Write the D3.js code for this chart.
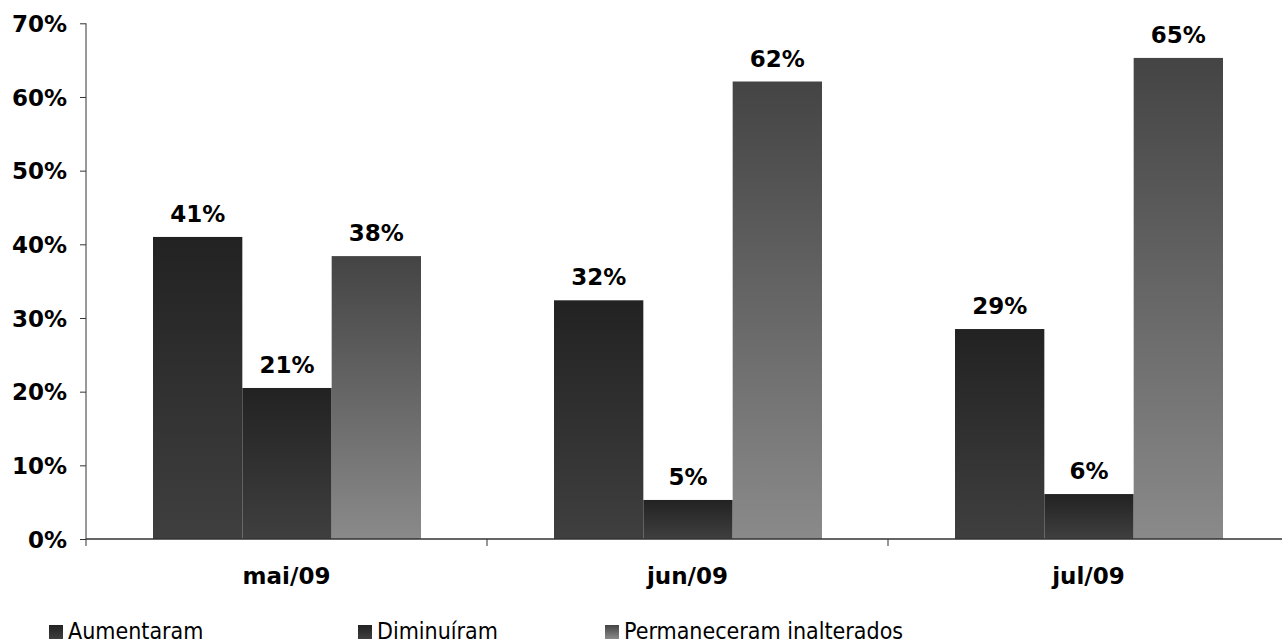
<!DOCTYPE html>
<html>
<head>
<meta charset="utf-8">
<script src="https://cdn.jsdelivr.net/npm/d3@7"></script>
<style>
  html, body { margin: 0; padding: 0; background: #fff; }
  svg { display: block; }
</style>
</head>
<body>
<svg id="chart" width="1282" height="643"></svg>
<script>
const categories = ["mai/09", "jun/09", "jul/09"];
const seriesNames = ["Aumentaram", "Diminuíram", "Permaneceram inalterados"];
const aumentaram = [41.0, 32.4, 28.5];
const diminuiram = [20.5, 5.3, 6.1];
const permaneceram = [38.4, 62.1, 65.3];
const valueLabels = [["41%", "32%", "29%"], ["21%", "5%", "6%"], ["38%", "62%", "65%"]];
const yTicks = [0, 10, 20, 30, 40, 50, 60, 70];

const series = [aumentaram, diminuiram, permaneceram];
const gradStops = [["#222222", "#3f3f3f"], ["#222222", "#3f3f3f"], ["#444444", "#8a8a8a"]];

const svg = d3.select("#chart");
const left = 86, bandW = 401, y0 = 539, yTop = 23.3;

const x0 = d3.scaleBand().domain(categories).range([left, left + bandW * categories.length]).padding(0);
const x1 = d3.scaleBand().domain(d3.range(3)).range([67, 335]).padding(0);
const y = d3.scaleLinear().domain([0, 70]).range([y0, yTop]);

const defs = svg.append("defs");
gradStops.forEach((s, i) => {
  const g = defs.append("linearGradient").attr("id", "g" + i)
    .attr("x1", 0).attr("y1", 0).attr("x2", 0).attr("y2", 1);
  g.append("stop").attr("offset", "0%").attr("stop-color", s[0]);
  g.append("stop").attr("offset", "100%").attr("stop-color", s[1]);
});

const font = "'DejaVu Sans', Verdana, sans-serif";
const fs = 23;

// bars
series.forEach((vals, si) => {
  svg.append("g").selectAll("rect").data(vals).join("rect")
    .attr("x", (d, ci) => x0(categories[ci]) + x1(si))
    .attr("y", d => y(d))
    .attr("width", x1.bandwidth())
    .attr("height", d => y(0) - y(d))
    .attr("fill", `url(#g${si})`);
  svg.append("g").selectAll("text").data(vals).join("text")
    .attr("x", (d, ci) => x0(categories[ci]) + x1(si) + x1.bandwidth() / 2)
    .attr("y", d => y(d) - 15)
    .attr("text-anchor", "middle")
    .attr("font-family", font).attr("font-weight", "bold").attr("font-size", fs)
    .attr("fill", "#000")
    .text((d, ci) => valueLabels[si][ci]);
});

// y axis
const yAxis = svg.append("g").attr("transform", `translate(${left},0)`)
  .call(d3.axisLeft(y).tickValues(yTicks).tickFormat(d => d + "%").tickSize(6).tickPadding(13));
yAxis.select(".domain").attr("stroke", "#333").attr("d", `M-0,${yTop}V${y0}`);
yAxis.selectAll(".tick line").attr("stroke", "#333");
yAxis.selectAll(".tick text").attr("font-family", font).attr("font-weight", "bold")
  .attr("font-size", fs).attr("fill", "#000").attr("dy", "0.36em");

// x axis
const xAxisG = svg.append("g").attr("transform", `translate(0,${y0})`);
xAxisG.append("line").attr("x1", left).attr("x2", 1282).attr("y1", 0).attr("y2", 0)
  .attr("stroke", "#333").attr("stroke-width", 1.5);
xAxisG.selectAll("line.tk").data(categories).join("line").attr("class", "tk")
  .attr("x1", d => x0(d)).attr("x2", d => x0(d)).attr("y1", 0).attr("y2", 7)
  .attr("stroke", "#333");
xAxisG.selectAll("text").data(categories).join("text")
  .attr("x", d => x0(d) + x0.bandwidth() / 2)
  .attr("y", 45)
  .attr("text-anchor", "middle")
  .attr("font-family", font).attr("font-weight", "bold").attr("font-size", fs)
  .attr("fill", "#000")
  .text(d => d);

// legend
const legendX = [49, 358, 605];
const lg = svg.append("g");
seriesNames.forEach((name, i) => {
  lg.append("rect").attr("x", legendX[i]).attr("y", 625).attr("width", 14).attr("height", 14)
    .attr("fill", `url(#g${i})`);
  lg.append("text").attr("x", legendX[i] + 19).attr("y", 639)
    .attr("font-family", "'DejaVu Sans Condensed', 'DejaVu Sans', sans-serif").attr("font-stretch", "condensed")
    .attr("font-size", 23).attr("fill", "#000").text(name);
});
</script>
</body>
</html>
